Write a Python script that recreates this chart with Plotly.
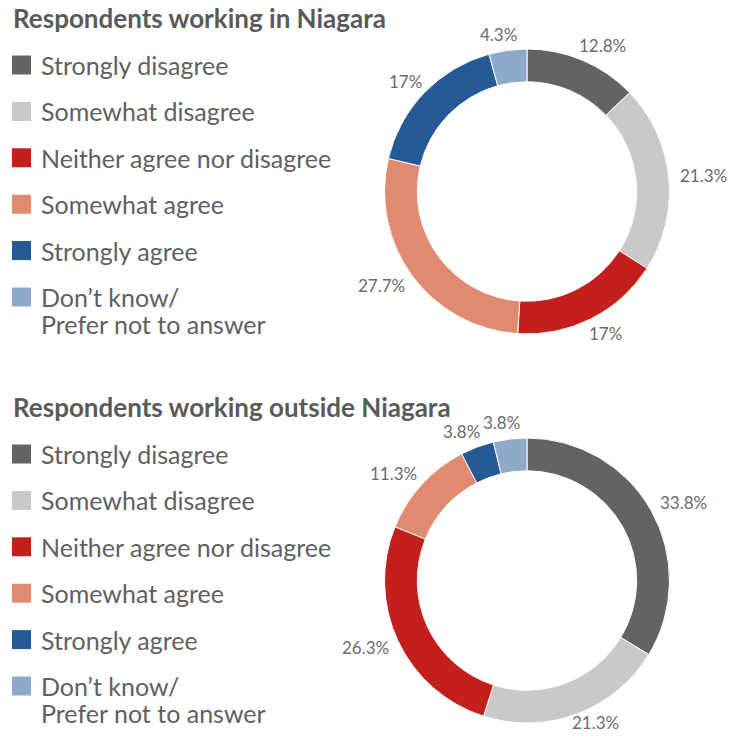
import math
import plotly.graph_objects as go

# ---- data ----
categories = ["Strongly disagree", "Somewhat disagree", "Neither agree nor disagree",
              "Somewhat agree", "Strongly agree", "Don’t know/\nPrefer not to answer"]
niagara = [12.8, 21.3, 17, 27.7, 17, 4.3]
outside_niagara = [33.8, 21.3, 26.3, 11.3, 3.8, 3.8]
titles = ["Respondents working in Niagara", "Respondents working outside Niagara"]
colors = ["#636363", "#c9c9c9", "#c4201b", "#e08a70", "#265a96", "#8eaacb"]

# page is 739x742 with 8px body margin -> figure 723x726
OFF = 8
W, H = 739 - 2 * OFF, 742 - 2 * OFF
FONT = "Lato"
TXT = "#5f6062"
LBL = "#6b6b6b"
LBL_SIZE = 17


def px_x(px):
    return min(1, max(0, (px - OFF) / W))


def px_y(py):
    return min(1, max(0, 1 - (py - OFF) / H))


fig = go.Figure()
annotations = []

# ---- donuts ----
pie_boxes = [(384, 670, 49, 334), (384, 670, 438, 723)]
for vals, box in zip([niagara, outside_niagara], pie_boxes):
    l, r, t, b = box
    fig.add_trace(go.Pie(
        labels=categories, values=vals, textinfo="none", sort=False,
        direction="clockwise", rotation=0, hole=0.77,
        marker=dict(colors=colors, line=dict(color="white", width=1)),
        domain=dict(x=[px_x(l), px_x(r)], y=[px_y(b), px_y(t)]),
        showlegend=False, hoverinfo="label+value",
    ))
    # outside-end percentage labels, placed from the slice mid-angles
    cx, cy = (l + r) / 2, (t + b) / 2
    R = min(r - l, b - t) / 2 + 7
    total = sum(vals)
    cum = 0
    for v in vals:
        theta = 2 * math.pi * (cum + v / 2) / total
        cum += v
        dx, dy = math.sin(theta), -math.cos(theta)
        txt = f"{v:g}%"
        tw = 0.54 * LBL_SIZE * len(txt)
        th = 1.1 * LBL_SIZE
        x = cx + R * dx + 1.2 * math.copysign(math.sqrt(abs(dx)), dx) * tw / 2
        y = cy + R * dy + dy * th / 2
        y = min(y, H + OFF - 12)
        annotations.append(dict(
            x=px_x(x), y=px_y(y), xref="paper", yref="paper", text=txt, showarrow=False,
            xanchor="center", yanchor="middle",
            font=dict(family=FONT, size=LBL_SIZE, color=LBL),
        ))

# ---- custom legends ----
row_gap = 46.4
legend_groups = [(65, 42, 345), (454, 431, 733)]  # first row centre px, domain top, domain bottom
marker_px = 21.5
xd = [0, 0.4]
xw = (xd[1] - xd[0]) * W
r0 = -1
r1 = r0 + xw / (marker_px - OFF)
title_y = [18, 406.5]
for gi, (first_px, dtop, dbot) in enumerate(legend_groups):
    ax = "" if gi == 0 else "2"
    top_val = -(first_px - dtop) / row_gap
    bot_val = top_val + (dbot - dtop) / row_gap
    fig.add_trace(go.Scatter(
        x=[0] * len(categories), y=list(range(len(categories))),
        mode="markers", marker=dict(symbol="square", size=19, color=colors, line=dict(width=0)),
        xaxis="x" + ax, yaxis="y" + ax, showlegend=False, hoverinfo="skip",
    ))
    fig.update_layout(**{
        "xaxis" + ax: dict(domain=xd, range=[r0, r1], visible=False, fixedrange=True),
        "yaxis" + ax: dict(domain=[px_y(dbot), px_y(dtop)], range=[bot_val, top_val],
                           visible=False, fixedrange=True),
    })
    for i, cat in enumerate(categories):
        for k, line in enumerate(cat.split("\n")):
            annotations.append(dict(
                x=px_x(39), xref="paper", y=i, yref="y" + ax, text=line, showarrow=False,
                xanchor="left", yanchor="middle", yshift=-27 * k,
                font=dict(family=FONT, size=25, color=TXT),
            ))
    annotations.append(dict(
        x=px_x(11), xref="paper", y=px_y(title_y[gi]), yref="paper",
        text=f"<b>{titles[gi]}</b>", showarrow=False, xanchor="left", yanchor="middle",
        font=dict(family=FONT, size=26, color="#5a5a5a"),
    ))

fig.update_layout(
    width=W, height=H, margin=dict(l=0, r=0, t=0, b=0),
    paper_bgcolor="white", plot_bgcolor="white",
    annotations=annotations, showlegend=False,
)

fig.write_html("out.html")
